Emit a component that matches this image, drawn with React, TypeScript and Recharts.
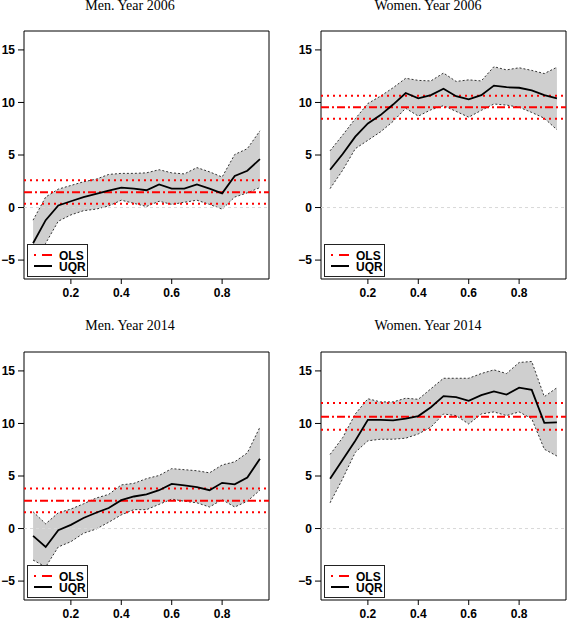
import React from 'react';
import { ComposedChart, Area, Line, XAxis, YAxis, ReferenceLine, ReferenceArea } from 'recharts';

const quantiles = [0.05, 0.1, 0.15, 0.2, 0.25, 0.3, 0.35, 0.4, 0.45, 0.5, 0.55, 0.6, 0.65, 0.7, 0.75, 0.8, 0.85, 0.9, 0.95];
const xTicks = [0.2, 0.4, 0.6, 0.8];
const yTicks = [-5, 0, 5, 10, 15];

// UQR estimate, lower and upper band; OLS = [estimate, lower, upper]
const men2006Uqr = [-3.4, -1.2, 0.2, 0.6, 1.0, 1.3, 1.6, 1.9, 1.8, 1.65, 2.2, 1.8, 1.8, 2.2, 1.8, 1.35, 3.0, 3.5, 4.6];
const men2006Lo = [-5.5, -3.4, -1.3, -0.7, -0.3, -0.15, 0.15, 0.7, 0.4, 0.1, 0.6, 0.3, 0.5, 0.7, 0.3, -0.15, 1.0, 1.4, 1.9];
const men2006Hi = [-1.2, 1.0, 1.75, 2.1, 2.45, 2.7, 3.15, 3.25, 3.25, 3.3, 3.6, 3.3, 3.2, 3.8, 3.4, 2.9, 5.05, 5.6, 7.3];
const men2006Ols = [1.45, 0.35, 2.6];

const women2006Uqr = [3.6, 5.1, 6.75, 8.0, 8.8, 9.8, 10.9, 10.4, 10.7, 11.3, 10.6, 10.3, 10.7, 11.6, 11.45, 11.4, 11.15, 10.7, 10.4];
const women2006Lo = [1.8, 3.55, 5.6, 6.4, 7.2, 8.2, 9.45, 8.7, 9.3, 9.7, 9.15, 8.6, 9.25, 9.85, 9.75, 9.55, 9.05, 8.5, 7.4];
const women2006Hi = [5.4, 6.9, 8.45, 9.9, 10.6, 11.4, 12.3, 12.1, 12.05, 12.8, 12.0, 12.15, 12.05, 13.4, 13.1, 13.3, 13.05, 12.75, 13.35];
const women2006Ols = [9.55, 8.45, 10.65];

const men2014Uqr = [-0.7, -1.75, -0.15, 0.35, 1.0, 1.5, 1.95, 2.7, 3.05, 3.25, 3.65, 4.25, 4.1, 3.95, 3.65, 4.35, 4.2, 4.85, 6.65];
const men2014Lo = [-3.0, -3.65, -1.75, -1.25, -0.45, -0.05, 0.6, 1.3, 1.8, 1.8, 2.3, 2.8, 2.6, 2.45, 2.05, 2.75, 2.05, 2.6, 3.65];
const men2014Hi = [1.6, 0.45, 1.5, 1.85, 2.35, 2.9, 3.25, 4.15, 4.3, 4.75, 5.05, 5.7, 5.6, 5.5, 5.3, 6.05, 6.35, 7.2, 9.65];
const men2014Ols = [2.65, 1.55, 3.8];

const women2014Uqr = [4.75, 6.55, 8.35, 10.35, 10.35, 10.3, 10.45, 10.7, 11.55, 12.6, 12.5, 12.15, 12.7, 13.05, 12.75, 13.4, 13.2, 10.05, 10.1];
const women2014Lo = [2.45, 4.75, 7.25, 8.35, 8.5, 8.5, 8.6, 9.0, 9.65, 10.9, 10.75, 9.95, 10.9, 11.1, 10.75, 11.1, 10.45, 7.55, 6.9];
const women2014Hi = [7.05, 8.65, 10.9, 12.35, 12.05, 12.05, 12.4, 12.3, 13.3, 14.3, 14.3, 14.3, 14.75, 15.1, 14.75, 15.8, 15.9, 12.55, 13.4];
const women2014Ols = [10.65, 9.4, 11.95];

const X_DOMAIN: [number, number] = [0.014, 0.986];
const Y_DOMAIN: [number, number] = [-6.8, 16.8];

const PLOT_W = 245;
const PLOT_H = 248;
const Y_AXIS_W = 24;
const TOP = 31;
const X_AXIS_H = 26;
const CHART_W = Y_AXIS_W + PLOT_W + 1;
const CHART_H = TOP + PLOT_H + X_AXIS_H;

const panels = [
  { title: 'Men. Year 2006', uqr: men2006Uqr, lo: men2006Lo, hi: men2006Hi, ols: men2006Ols, left: 0, top: 0, titleX: 130 },
  { title: 'Women. Year 2006', uqr: women2006Uqr, lo: women2006Lo, hi: women2006Hi, ols: women2006Ols, left: 297, top: 0, titleX: 428 },
  { title: 'Men. Year 2014', uqr: men2014Uqr, lo: men2014Lo, hi: men2014Hi, ols: men2014Ols, left: 0, top: 321, titleX: 130 },
  { title: 'Women. Year 2014', uqr: women2014Uqr, lo: women2014Lo, hi: women2014Hi, ols: women2014Ols, left: 297, top: 321, titleX: 428 },
];

const SANS = '"Liberation Sans", Arial, sans-serif';
const tickStyle = { fill: '#000', fontSize: 12, fontFamily: SANS, fontWeight: 'bold' };
const fmt = (v: number) => String(v).replace('-', '\u2212');

const LegendBox = ({ left, top }: { left: number; top: number }) => (
  <div style={{ position: 'absolute', left, top, width: 61, height: 33, boxSizing: 'border-box', border: '1px solid #222', background: '#fff' }}>
    <svg width={59} height={31} style={{ display: 'block' }}>
      <line x1={6} x2={24} y1={10} y2={10} stroke="#ff0000" strokeWidth={2} strokeDasharray="2 6 10 0" />
      <line x1={6} x2={24} y1={21} y2={21} stroke="#000" strokeWidth={2} />
      <text x={31} y={14.5} fontSize={12} fontFamily={SANS} fontWeight="bold" fill="#000">OLS</text>
      <text x={31} y={25.5} fontSize={12} fontFamily={SANS} fontWeight="bold" fill="#000">UQR</text>
    </svg>
  </div>
);

const Panel = ({ p }: { p: typeof panels[number] }) => {
  const data = quantiles.map((q, i) => ({ q, uqr: p.uqr[i], lo: p.lo[i], hi: p.hi[i], band: [p.lo[i], p.hi[i]] }));
  const [est, olsLo, olsHi] = p.ols;
  return (
    <>
      <div
        style={{
          position: 'absolute',
          left: p.titleX - 100,
          top: p.top === 0 ? 0 : p.top - 1,
          width: 200,
          textAlign: 'center',
          fontFamily: '"Liberation Serif", "Times New Roman", serif',
          fontSize: 14,
          lineHeight: '12px',
          color: '#000',
        }}
      >
        {p.title}
      </div>
      <div style={{ position: 'absolute', left: p.left, top: p.top }}>
        <ComposedChart width={CHART_W} height={CHART_H} data={data} margin={{ top: TOP, right: 1, bottom: 0, left: 0 }}>
          <XAxis
            dataKey="q"
            type="number"
            domain={X_DOMAIN}
            ticks={xTicks}
            allowDataOverflow
            axisLine={false}
            tickLine={{ stroke: '#000' }}
            tickSize={5}
            tickMargin={4}
            tick={tickStyle}
            height={X_AXIS_H}
          />
          <YAxis
            type="number"
            domain={Y_DOMAIN}
            ticks={yTicks}
            allowDataOverflow
            axisLine={false}
            tickLine={{ stroke: '#000' }}
            tickSize={6}
            tickMargin={3}
            tick={tickStyle}
            tickFormatter={fmt}
            width={Y_AXIS_W}
          />
          <Area dataKey="band" type="linear" fill="#cfcfcf" fillOpacity={1} stroke="none" isAnimationActive={false} />
          <Line dataKey="lo" type="linear" stroke="#333" strokeWidth={1} strokeDasharray="2 2" dot={false} isAnimationActive={false} />
          <Line dataKey="hi" type="linear" stroke="#333" strokeWidth={1} strokeDasharray="2 2" dot={false} isAnimationActive={false} />
          <ReferenceLine y={0} stroke="#d8d8d8" strokeDasharray="3 3" strokeWidth={1} />
          <ReferenceLine y={olsHi} stroke="#ff0000" strokeWidth={2} strokeDasharray="2 4" />
          <ReferenceLine y={est} stroke="#ff0000" strokeWidth={2} strokeDasharray="8 3 2 3" />
          <ReferenceLine y={olsLo} stroke="#ff0000" strokeWidth={2} strokeDasharray="2 4" />
          <Line dataKey="uqr" type="linear" stroke="#000" strokeWidth={1.8} dot={false} isAnimationActive={false} />
          <ReferenceArea x1={X_DOMAIN[0]} x2={X_DOMAIN[1]} y1={Y_DOMAIN[0]} y2={Y_DOMAIN[1]} fill="none" stroke="#000" strokeWidth={1} ifOverflow="visible" />
        </ComposedChart>
      </div>
      <LegendBox left={p.left + Y_AXIS_W + 3} top={p.top + TOP + PLOT_H - 35} />
    </>
  );
};

export default function App() {
  return (
    <div style={{ position: 'absolute', left: 0, top: 0, width: 567, height: 619, overflow: 'hidden', background: '#fff' }}>
      {panels.map((p) => (
        <Panel key={p.title} p={p} />
      ))}
    </div>
  );
}
